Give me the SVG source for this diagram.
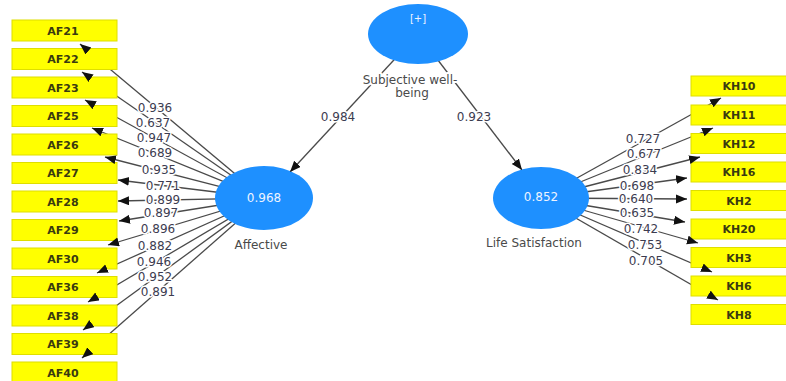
<svg xmlns="http://www.w3.org/2000/svg" width="786" height="381" viewBox="0 0 786 381">
<defs>
<marker id="arr" markerUnits="userSpaceOnUse" markerWidth="12" markerHeight="10" refX="11" refY="4.5" orient="auto" viewBox="0 0 12 10">
<path d="M0,0 L11,4.5 L0,9 z" fill="#111"/>
</marker>
<style>
.ln{stroke:#4a4a4a;stroke-width:1.3;fill:none}
.ah{stroke:none;fill:none;marker-end:url(#arr)}
.lv{font-family:"DejaVu Sans",sans-serif;font-size:12px;fill:#3c3c50;text-anchor:middle;paint-order:stroke;stroke:#fff;stroke-width:3;stroke-linejoin:round}
.bx rect{fill:#ffff00;stroke:#dede00;stroke-width:1}
.bx text{font-family:"DejaVu Sans",sans-serif;font-size:11px;font-weight:bold;fill:#3a3a10;text-anchor:middle}
.lv2 ellipse{fill:#1e90ff}
.in{font-family:"DejaVu Sans",sans-serif;font-size:12px;fill:#eef4ff;text-anchor:middle}
.nm{font-family:"DejaVu Sans",sans-serif;font-size:12px;fill:#4a4a4a;text-anchor:middle;paint-order:stroke;stroke:#fff;stroke-width:4;stroke-linejoin:round}
</style>
</defs>
<rect width="786" height="381" fill="#fff"/>
<g id="connectors">
<g class="ln">
<line x1="418" y1="34" x2="290" y2="172"/>
<line x1="418" y1="34" x2="522" y2="170"/>
<line x1="264" y1="198" x2="80" y2="44"/>
<line x1="264" y1="198" x2="82" y2="72"/>
<line x1="264" y1="198" x2="85" y2="100"/>
<line x1="264" y1="198" x2="92" y2="128"/>
<line x1="264" y1="198" x2="105" y2="157"/>
<line x1="264" y1="198" x2="118" y2="180"/>
<line x1="264" y1="198" x2="118" y2="201"/>
<line x1="264" y1="198" x2="119" y2="221"/>
<line x1="264" y1="198" x2="108" y2="245"/>
<line x1="264" y1="198" x2="97" y2="273"/>
<line x1="264" y1="198" x2="88" y2="302"/>
<line x1="264" y1="198" x2="83" y2="330"/>
<line x1="264" y1="198" x2="82" y2="358"/>
<line x1="541" y1="198" x2="721" y2="98"/>
<line x1="541" y1="198" x2="713" y2="128"/>
<line x1="541" y1="198" x2="700" y2="157"/>
<line x1="541" y1="198" x2="687" y2="178"/>
<line x1="541" y1="198" x2="687" y2="199"/>
<line x1="541" y1="198" x2="685" y2="222"/>
<line x1="541" y1="198" x2="698" y2="243"/>
<line x1="541" y1="198" x2="712" y2="272"/>
<line x1="541" y1="198" x2="718" y2="300"/>
</g>
</g>
<g id="nodes">
<g id="swb" class="lv2">
<ellipse cx="418" cy="34" rx="50" ry="30"/>
<text class="in" x="418" y="22" style="font-size:10px">[+]</text>
<text class="nm" x="410" y="84">Subjective well-</text>
<text class="nm" x="412" y="97">being</text>
</g>
<g id="affective" class="lv2">
<ellipse cx="264" cy="198" rx="49" ry="32"/>
<text class="in" x="264" y="202">0.968</text>
<text class="nm" x="261" y="249">Affective</text>
</g>
<g id="lifesat" class="lv2">
<ellipse cx="541" cy="198" rx="48" ry="31"/>
<text class="in" x="541" y="201">0.852</text>
<text class="nm" x="534" y="247">Life Satisfaction</text>
</g>
<g id="AF21" class="bx"><rect x="12" y="20" width="105" height="21"/><text x="63" y="34.5">AF21</text></g>
<g id="AF22" class="bx"><rect x="12" y="48.5" width="105" height="21"/><text x="63" y="63">AF22</text></g>
<g id="AF23" class="bx"><rect x="12" y="77" width="105" height="21"/><text x="63" y="91.5">AF23</text></g>
<g id="AF25" class="bx"><rect x="12" y="105.5" width="105" height="21"/><text x="63" y="120">AF25</text></g>
<g id="AF26" class="bx"><rect x="12" y="134" width="105" height="21"/><text x="63" y="148.5">AF26</text></g>
<g id="AF27" class="bx"><rect x="12" y="162.5" width="105" height="21"/><text x="63" y="177">AF27</text></g>
<g id="AF28" class="bx"><rect x="12" y="191" width="105" height="21"/><text x="63" y="205.5">AF28</text></g>
<g id="AF29" class="bx"><rect x="12" y="219.5" width="105" height="21"/><text x="63" y="234">AF29</text></g>
<g id="AF30" class="bx"><rect x="12" y="248" width="105" height="21"/><text x="63" y="262.5">AF30</text></g>
<g id="AF36" class="bx"><rect x="12" y="276.5" width="105" height="21"/><text x="63" y="291">AF36</text></g>
<g id="AF38" class="bx"><rect x="12" y="305" width="105" height="21"/><text x="63" y="319.5">AF38</text></g>
<g id="AF39" class="bx"><rect x="12" y="333.5" width="105" height="21"/><text x="63" y="348">AF39</text></g>
<g id="AF40" class="bx"><rect x="12" y="362" width="105" height="21"/><text x="63" y="376.5">AF40</text></g>
<g id="KH10" class="bx"><rect x="691" y="76" width="96" height="20"/><text x="739" y="90">KH10</text></g>
<g id="KH11" class="bx"><rect x="691" y="105" width="96" height="20"/><text x="739" y="119">KH11</text></g>
<g id="KH12" class="bx"><rect x="691" y="133.5" width="96" height="20"/><text x="739" y="147.5">KH12</text></g>
<g id="KH16" class="bx"><rect x="691" y="162" width="96" height="20"/><text x="739" y="176">KH16</text></g>
<g id="KH2" class="bx"><rect x="691" y="190.5" width="96" height="20"/><text x="739" y="204.5">KH2</text></g>
<g id="KH20" class="bx"><rect x="691" y="219" width="96" height="20"/><text x="739" y="233">KH20</text></g>
<g id="KH3" class="bx"><rect x="691" y="247.5" width="96" height="20"/><text x="739" y="261.5">KH3</text></g>
<g id="KH6" class="bx"><rect x="691" y="276" width="96" height="20"/><text x="739" y="290">KH6</text></g>
<g id="KH8" class="bx"><rect x="691" y="304.5" width="96" height="20"/><text x="739" y="318.5">KH8</text></g>
</g>
<g id="arrowheads" class="ah">
<line x1="418" y1="34" x2="290" y2="172"/>
<line x1="418" y1="34" x2="522" y2="170"/>
<line x1="264" y1="198" x2="80" y2="44"/>
<line x1="264" y1="198" x2="82" y2="72"/>
<line x1="264" y1="198" x2="85" y2="100"/>
<line x1="264" y1="198" x2="92" y2="128"/>
<line x1="264" y1="198" x2="105" y2="157"/>
<line x1="264" y1="198" x2="118" y2="180"/>
<line x1="264" y1="198" x2="118" y2="201"/>
<line x1="264" y1="198" x2="119" y2="221"/>
<line x1="264" y1="198" x2="108" y2="245"/>
<line x1="264" y1="198" x2="97" y2="273"/>
<line x1="264" y1="198" x2="88" y2="302"/>
<line x1="264" y1="198" x2="83" y2="330"/>
<line x1="264" y1="198" x2="82" y2="358"/>
<line x1="541" y1="198" x2="721" y2="98"/>
<line x1="541" y1="198" x2="713" y2="128"/>
<line x1="541" y1="198" x2="700" y2="157"/>
<line x1="541" y1="198" x2="687" y2="178"/>
<line x1="541" y1="198" x2="687" y2="199"/>
<line x1="541" y1="198" x2="685" y2="222"/>
<line x1="541" y1="198" x2="698" y2="243"/>
<line x1="541" y1="198" x2="712" y2="272"/>
<line x1="541" y1="198" x2="718" y2="300"/>
</g>
<g id="labels">
<text class="lv" x="338" y="121">0.984</text>
<text class="lv" x="474" y="121">0.923</text>
<text class="lv" x="155" y="112">0.936</text>
<text class="lv" x="153" y="127">0.637</text>
<text class="lv" x="154" y="142">0.947</text>
<text class="lv" x="155" y="157">0.689</text>
<text class="lv" x="159" y="174">0.935</text>
<text class="lv" x="163" y="190">0.771</text>
<text class="lv" x="163" y="204">0.899</text>
<text class="lv" x="161" y="217">0.897</text>
<text class="lv" x="158" y="233">0.896</text>
<text class="lv" x="155" y="250">0.882</text>
<text class="lv" x="154" y="266">0.946</text>
<text class="lv" x="155" y="281">0.952</text>
<text class="lv" x="158" y="296">0.891</text>
<text class="lv" x="643" y="143">0.727</text>
<text class="lv" x="644" y="158">0.677</text>
<text class="lv" x="640" y="174">0.834</text>
<text class="lv" x="637" y="190">0.698</text>
<text class="lv" x="636" y="203">0.640</text>
<text class="lv" x="637" y="217">0.635</text>
<text class="lv" x="641" y="233">0.742</text>
<text class="lv" x="645" y="249">0.753</text>
<text class="lv" x="646" y="265">0.705</text>
</g>
</svg>
